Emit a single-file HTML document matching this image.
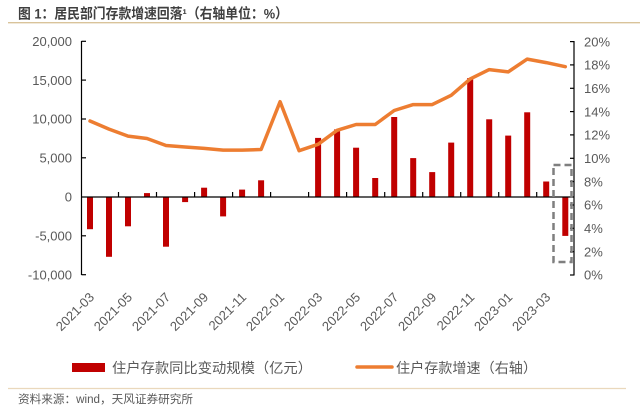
<!DOCTYPE html>
<html>
<head>
<meta charset="utf-8">
<style>
  html, body { margin:0; padding:0; background:#fff; }
  body { width:640px; height:408px; overflow:hidden; }
  svg { display:block; }
  .ax { font-family:"Liberation Sans","Noto Sans CJK SC",sans-serif; font-size:13px; fill:#595959; }
  .cj { font-family:"Liberation Sans","Noto Sans CJK SC",sans-serif; fill:#595959; }
</style>
</head>
<body>
<svg width="640" height="408" viewBox="0 0 640 408" xmlns="http://www.w3.org/2000/svg">
  <!-- Title -->
  <text x="18" y="18.5" font-family="Liberation Sans, Noto Sans CJK SC, sans-serif" font-size="14" font-weight="bold" fill="#3f3f3f" textLength="270" lengthAdjust="spacingAndGlyphs">图 1：居民部门存款增速回落¹（右轴单位：%）</text>
  <line x1="8" y1="22.7" x2="640" y2="22.7" stroke="#D9C39A" stroke-width="1.3"/>

  <!-- Left axis -->
  <line x1="81.5" y1="41" x2="81.5" y2="275" stroke="#000" stroke-width="1.2"/>
  <g stroke="#000" stroke-width="1.2">
    <line x1="81.5" y1="41.3" x2="86" y2="41.3"/>
    <line x1="81.5" y1="80.1" x2="86" y2="80.1"/>
    <line x1="81.5" y1="119" x2="86" y2="119"/>
    <line x1="81.5" y1="157.8" x2="86" y2="157.8"/>
    <line x1="81.5" y1="235.8" x2="86" y2="235.8"/>
    <line x1="81.5" y1="274.7" x2="86" y2="274.7"/>
  </g>
  <g class="ax" text-anchor="end">
    <text x="72" y="46">20,000</text>
    <text x="72" y="84.8">15,000</text>
    <text x="72" y="123.7">10,000</text>
    <text x="72" y="162.5">5,000</text>
    <text x="72" y="201.7">0</text>
    <text x="72" y="240.5">-5,000</text>
    <text x="72" y="279.4">-10,000</text>
  </g>

  <!-- Right axis -->
  <line x1="574" y1="41" x2="574" y2="275.5" stroke="#000" stroke-width="1.2"/>
  <g stroke="#000" stroke-width="1.2">
    <line x1="570" y1="41.6" x2="574" y2="41.6"/>
    <line x1="570" y1="64.9" x2="574" y2="64.9"/>
    <line x1="570" y1="88.3" x2="574" y2="88.3"/>
    <line x1="570" y1="111.6" x2="574" y2="111.6"/>
    <line x1="570" y1="134.9" x2="574" y2="134.9"/>
    <line x1="570" y1="158.3" x2="574" y2="158.3"/>
    <line x1="570" y1="181.6" x2="574" y2="181.6"/>
    <line x1="570" y1="205" x2="574" y2="205"/>
    <line x1="570" y1="228.3" x2="574" y2="228.3"/>
    <line x1="570" y1="251.7" x2="574" y2="251.7"/>
    <line x1="570" y1="275" x2="574" y2="275"/>
  </g>
  <g class="ax" text-anchor="start">
    <text x="584" y="46.3">20%</text>
    <text x="584" y="69.6">18%</text>
    <text x="584" y="93">16%</text>
    <text x="584" y="116.3">14%</text>
    <text x="584" y="139.6">12%</text>
    <text x="584" y="163">10%</text>
    <text x="584" y="186.3">8%</text>
    <text x="584" y="209.7">6%</text>
    <text x="584" y="233">4%</text>
    <text x="584" y="256.4">2%</text>
    <text x="584" y="279.7">0%</text>
  </g>

  <!-- Bars -->
  <g fill="#C00000">
    <rect x="87" y="197" width="6" height="32.2"/>
    <rect x="106" y="197" width="6" height="59.8"/>
    <rect x="125" y="197" width="6" height="29.3"/>
    <rect x="144" y="193.1" width="6" height="3.9"/>
    <rect x="163" y="197" width="6" height="49.7"/>
    <rect x="182.1" y="197" width="6" height="5.1"/>
    <rect x="201.1" y="187.7" width="6" height="9.3"/>
    <rect x="220.1" y="197" width="6" height="19.4"/>
    <rect x="239.1" y="189.6" width="6" height="7.4"/>
    <rect x="258.1" y="180.3" width="6" height="16.7"/>
    <rect x="315.1" y="137.9" width="6" height="59.1"/>
    <rect x="334.1" y="129.4" width="6" height="67.6"/>
    <rect x="353.1" y="147.7" width="6" height="49.3"/>
    <rect x="372.2" y="178" width="6" height="19"/>
    <rect x="391.2" y="117" width="6" height="80"/>
    <rect x="410.2" y="158.1" width="6" height="38.9"/>
    <rect x="429.2" y="172.1" width="6" height="24.9"/>
    <rect x="448.2" y="142.6" width="6" height="54.4"/>
    <rect x="467.2" y="78.1" width="6" height="118.9"/>
    <rect x="486.2" y="119.3" width="6" height="77.7"/>
    <rect x="505.2" y="135.6" width="6" height="61.4"/>
    <rect x="524.2" y="112.3" width="6" height="84.7"/>
    <rect x="543.2" y="181.5" width="6" height="15.5"/>
    <rect x="562.3" y="197" width="6" height="38.9"/>
  </g>

  <!-- Zero axis with ticks -->
  <line x1="81.5" y1="197" x2="574" y2="197" stroke="#000" stroke-width="1.2"/>
  <g stroke="#000" stroke-width="1.2">
    <line x1="118.5" y1="197" x2="118.5" y2="192"/>
    <line x1="156.5" y1="197" x2="156.5" y2="192"/>
    <line x1="194.6" y1="197" x2="194.6" y2="192"/>
    <line x1="232.6" y1="197" x2="232.6" y2="192"/>
    <line x1="270.6" y1="197" x2="270.6" y2="192"/>
    <line x1="308.6" y1="197" x2="308.6" y2="192"/>
    <line x1="346.6" y1="197" x2="346.6" y2="192"/>
    <line x1="384.7" y1="197" x2="384.7" y2="192"/>
    <line x1="422.7" y1="197" x2="422.7" y2="192"/>
    <line x1="460.7" y1="197" x2="460.7" y2="192"/>
    <line x1="498.7" y1="197" x2="498.7" y2="192"/>
    <line x1="536.7" y1="197" x2="536.7" y2="192"/>
  </g>

  <!-- Line series -->
  <polyline fill="none" stroke="#ED7D31" stroke-width="3.5" stroke-linejoin="round" stroke-linecap="round"
    points="90,121 109,129.1 128,136.1 147,138.5 166,145.5 185.1,147 204.1,148.4 223.1,150.1 242.1,150.1 261.1,149.5 280.1,101.7 299.1,150.7 318.1,144.3 337.1,130.3 356.1,124.5 375.2,124.5 394.2,110.5 413.2,104.6 432.2,104.6 451.2,95.3 470.2,78.9 489.2,69.6 508.2,71.9 527.2,59.1 546.2,62.6 565.3,66.7"/>

  <!-- Dashed highlight box -->
  <rect x="553.5" y="165" width="18" height="97" fill="none" stroke="#7F7F7F" stroke-width="2.5" stroke-dasharray="7 4"/>

  <!-- X labels -->
  <g class="ax" text-anchor="end">
    <text transform="translate(95,298) rotate(-45)">2021-03</text>
    <text transform="translate(133,298) rotate(-45)">2021-05</text>
    <text transform="translate(171.1,298) rotate(-45)">2021-07</text>
    <text transform="translate(209.1,298) rotate(-45)">2021-09</text>
    <text transform="translate(247.1,298) rotate(-45)">2021-11</text>
    <text transform="translate(285.1,298) rotate(-45)">2022-01</text>
    <text transform="translate(323.1,298) rotate(-45)">2022-03</text>
    <text transform="translate(361.1,298) rotate(-45)">2022-05</text>
    <text transform="translate(399.2,298) rotate(-45)">2022-07</text>
    <text transform="translate(437.2,298) rotate(-45)">2022-09</text>
    <text transform="translate(475.2,298) rotate(-45)">2022-11</text>
    <text transform="translate(513.2,298) rotate(-45)">2023-01</text>
    <text transform="translate(551.2,298) rotate(-45)">2023-03</text>
  </g>

  <!-- Legend -->
  <rect x="72" y="363" width="33" height="9" fill="#C00000"/>
  <text x="112" y="373" class="cj" font-size="14" textLength="200" lengthAdjust="spacingAndGlyphs">住户存款同比变动规模（亿元）</text>
  <line x1="357" y1="367" x2="392" y2="367" stroke="#ED7D31" stroke-width="3.5" stroke-linecap="round"/>
  <text x="396" y="373" class="cj" font-size="14" textLength="141" lengthAdjust="spacingAndGlyphs">住户存款增速（右轴）</text>

  <!-- Bottom rule & source -->
  <line x1="8" y1="388.5" x2="626" y2="388.5" stroke="#EAD8BC" stroke-width="1.3"/>
  <text x="18" y="403" class="cj" font-size="11.5" textLength="175" lengthAdjust="spacingAndGlyphs">资料来源：wind，天风证券研究所</text>
</svg>
</body>
</html>
